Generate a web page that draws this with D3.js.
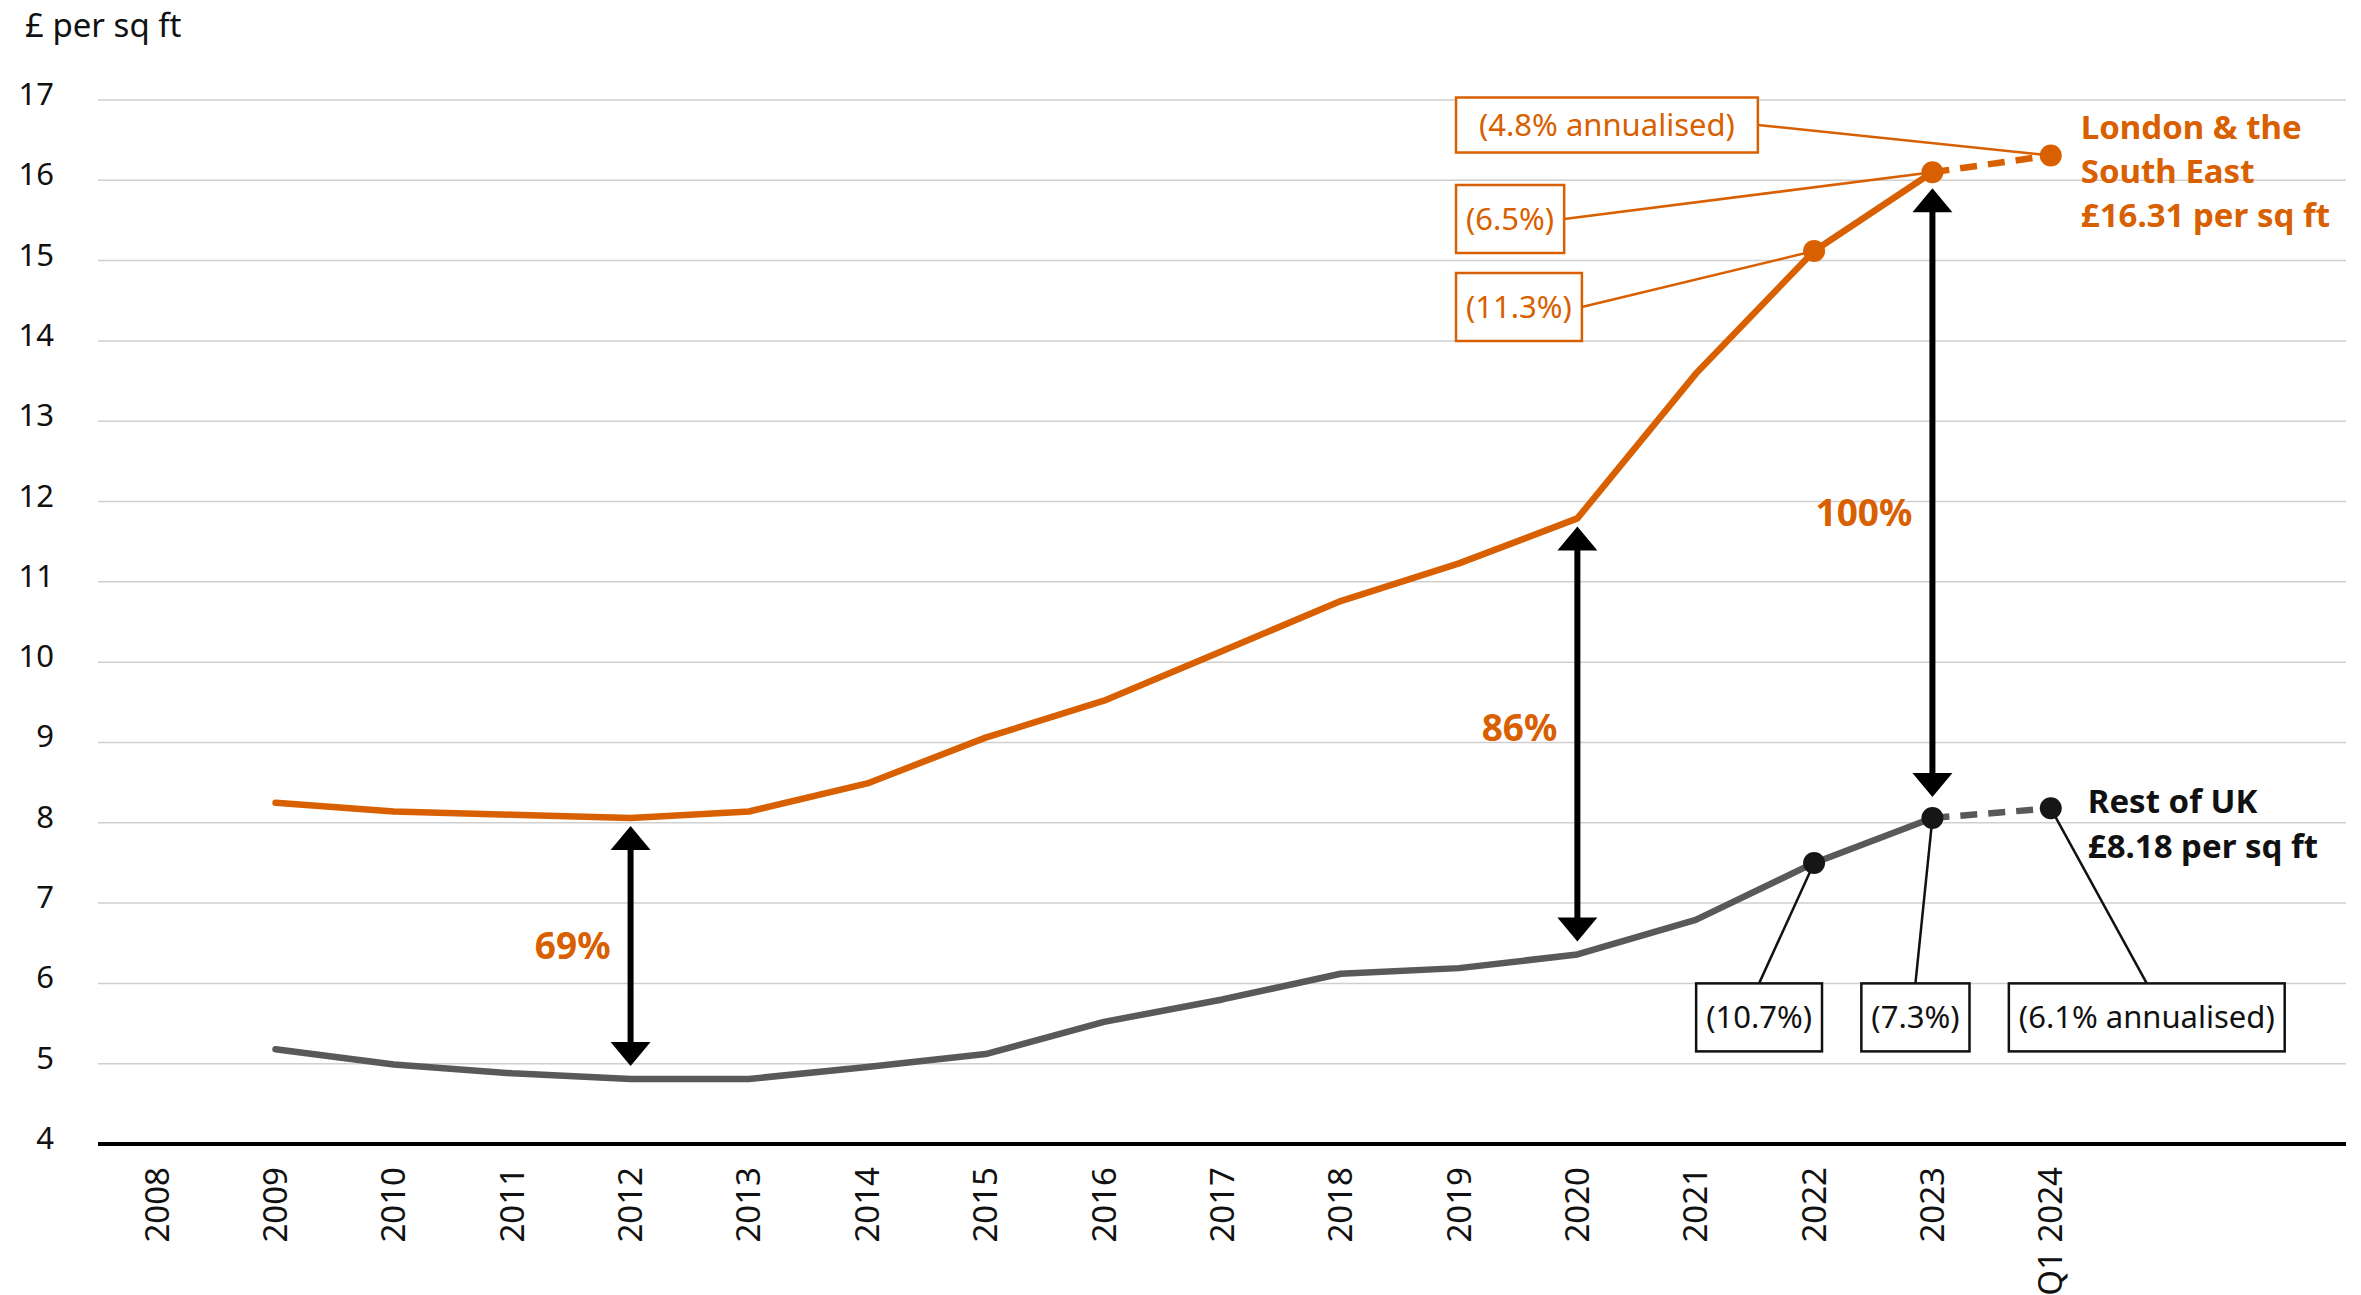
<!DOCTYPE html>
<html>
<head>
<meta charset="utf-8">
<script src="https://cdn.jsdelivr.net/npm/d3@7"></script>
<style>
  body { margin: 0; background: #fff; }
  text { font-family: "Noto Sans", "Open Sans", sans-serif; }
</style>
</head>
<body>
<div id="chart"></div>
<script>
// data
const years = ["2008", "2009", "2010", "2011", "2012", "2013", "2014", "2015", "2016",
               "2017", "2018", "2019", "2020", "2021", "2022", "2023", "Q1 2024"];
const londonSE = [null, 8.25, 8.14, 8.10, 8.06, 8.14, 8.49, 9.06, 9.52,
                  10.14, 10.76, 11.23, 11.79, 13.59, 15.12, 16.10, 16.31];
const restOfUK = [null, 5.18, 4.99, 4.88, 4.81, 4.81, 4.96, 5.12, 5.52,
                  5.80, 6.12, 6.19, 6.36, 6.79, 7.50, 8.06, 8.18];
const yTicks = [4, 5, 6, 7, 8, 9, 10, 11, 12, 13, 14, 15, 16, 17];
const gapYears = ["2012", "2020", "2023"];
const gapLabels = ["69%", "86%", "100%"];
const londonNotes = [
  {year: "2022", text: "(11.3%)"},
  {year: "2023", text: "(6.5%)"},
  {year: "Q1 2024", text: "(4.8% annualised)"}
];
const ukNotes = [
  {year: "2022", text: "(10.7%)"},
  {year: "2023", text: "(7.3%)"},
  {year: "Q1 2024", text: "(6.1% annualised)"}
];
const londonTitle = ["London & the", "South East", "£16.31 per sq ft"];
const ukTitle = ["Rest of UK", "£8.18 per sq ft"];
const markedYears = ["2022", "2023", "Q1 2024"];

// layout
const W = 2361, H = 1295;
const orange = "#D86000", grey = "#595959", dark = "#161616";
const londonBoxes = [{cy: 307, pad: 10, h: 68}, {cy: 219, pad: 10, h: 68}, {cy: 125, pad: 23, h: 55}];
const ukBoxes = [{dx: -55, pad: 10, h: 68}, {dx: -17, pad: 10, h: 68}, {dx: 96, pad: 10, h: 68}];
const gapLabelDy = [0, -6, 20];

const svg = d3.select("#chart").append("svg")
  .attr("width", W).attr("height", H);

const x = d3.scaleBand().domain(years).range([98, 98 + 17 * 118.35]);
const xc = d => x(d) + x.bandwidth() / 2;
const y = d3.scaleLinear().domain([4, 17]).range([1144, 100]);

// gridlines
svg.append("g").selectAll("line")
  .data(yTicks.filter(d => d > 4))
  .enter().append("line")
  .attr("x1", 98).attr("x2", 2346)
  .attr("y1", d => y(d)).attr("y2", d => y(d))
  .attr("stroke", "#cfcfcf").attr("stroke-width", 1.5);

// y labels
svg.append("g").selectAll("text")
  .data(yTicks)
  .enter().append("text")
  .attr("x", 54).attr("y", d => y(d) + 5)
  .attr("text-anchor", "end")
  .style("font-size", "31px")
  .attr("fill", "#111")
  .text(d => d);

svg.append("text")
  .attr("x", 25).attr("y", 37)
  .style("font-size", "33px")
  .attr("fill", "#111")
  .text("£ per sq ft");

// x axis
svg.append("line")
  .attr("x1", 98).attr("x2", 2346)
  .attr("y1", y(4)).attr("y2", y(4))
  .attr("stroke", "#000").attr("stroke-width", 4);

svg.append("g").selectAll("text")
  .data(years)
  .enter().append("text")
  .attr("transform", d => `translate(${xc(d)},1167) rotate(-90)`)
  .attr("text-anchor", "end")
  .attr("dy", "0.35em")
  .style("font-size", "33px")
  .attr("fill", "#111")
  .text(d => d);

// series
const series = [
  {name: "london", values: londonSE, color: orange, dot: orange},
  {name: "uk", values: restOfUK, color: grey, dot: dark}
];

const line = d3.line()
  .defined(d => d.v !== null)
  .x(d => xc(d.year))
  .y(d => y(d.v));

series.forEach(s => {
  const pts = years.map((yr, i) => ({year: yr, v: s.values[i]}));
  const solid = pts.slice(0, years.length - 1);
  const dashed = pts.slice(years.length - 2);
  svg.append("path")
    .datum(solid)
    .attr("d", line)
    .attr("fill", "none")
    .attr("stroke", s.color)
    .attr("stroke-width", 6.5)
    .attr("stroke-linejoin", "round")
    .attr("stroke-linecap", "round");
  svg.append("path")
    .datum(dashed)
    .attr("d", line)
    .attr("fill", "none")
    .attr("stroke", s.color)
    .attr("stroke-width", 6.5)
    .attr("stroke-dasharray", "17,11");
  s.pts = pts;
});

function valueAt(arr, yr) { return arr[years.indexOf(yr)]; }

// annotation boxes (orange)
londonNotes.forEach((n, i) => {
  const lay = londonBoxes[i];
  const g = svg.append("g");
  const t = g.append("text")
    .attr("y", lay.cy)
    .attr("dy", "0.35em")
    .style("font-size", "31px")
    .attr("fill", orange)
    .text(n.text);
  const left = xc("2019") - 3;
  const w = t.node().getComputedTextLength();
  t.attr("x", left + lay.pad);
  const right = left + w + lay.pad * 2;
  g.insert("rect", "text")
    .attr("x", left).attr("y", lay.cy - lay.h / 2)
    .attr("width", right - left).attr("height", lay.h)
    .attr("fill", "#fff").attr("stroke", orange).attr("stroke-width", 2.5);
  svg.append("line")
    .attr("x1", right).attr("y1", lay.cy)
    .attr("x2", xc(n.year)).attr("y2", y(valueAt(londonSE, n.year)))
    .attr("stroke", orange).attr("stroke-width", 2.5);
});

// annotation boxes (rest of UK)
ukNotes.forEach((n, i) => {
  const lay = ukBoxes[i];
  const g = svg.append("g");
  const cx = xc(n.year) + lay.dx;
  const top = y(6);
  const t = g.append("text")
    .attr("x", cx).attr("y", top + lay.h / 2)
    .attr("dy", "0.35em")
    .attr("text-anchor", "middle")
    .style("font-size", "31px")
    .attr("fill", "#111")
    .text(n.text);
  const w = t.node().getComputedTextLength() + lay.pad * 2;
  g.insert("rect", "text")
    .attr("x", cx - w / 2).attr("y", top)
    .attr("width", w).attr("height", lay.h)
    .attr("fill", "#fff").attr("stroke", "#111").attr("stroke-width", 2.5);
  svg.append("line")
    .attr("x1", cx).attr("y1", top)
    .attr("x2", xc(n.year)).attr("y2", y(valueAt(restOfUK, n.year)))
    .attr("stroke", "#111").attr("stroke-width", 2.5);
});

// markers
series.forEach(s => {
  svg.append("g").selectAll("circle")
    .data(s.pts.filter(p => markedYears.includes(p.year)))
    .enter().append("circle")
    .attr("cx", d => xc(d.year)).attr("cy", d => y(d.v))
    .attr("r", 11)
    .attr("fill", s.dot);
});

// gap arrows
gapYears.forEach((yr, i) => {
  const ax = xc(yr);
  const extra = markedYears.includes(yr) ? 8 : 0;
  const top = y(valueAt(londonSE, yr)) + 8 + extra;
  const bot = y(valueAt(restOfUK, yr)) - 13 - extra;
  const hw = 20, hl = 24;
  svg.append("line")
    .attr("x1", ax).attr("x2", ax)
    .attr("y1", top + hl - 2).attr("y2", bot - hl + 2)
    .attr("stroke", "#000").attr("stroke-width", 6);
  svg.append("path")
    .attr("d", `M${ax},${top}L${ax + hw},${top + hl}L${ax - hw},${top + hl}Z`)
    .attr("fill", "#000");
  svg.append("path")
    .attr("d", `M${ax},${bot}L${ax + hw},${bot - hl}L${ax - hw},${bot - hl}Z`)
    .attr("fill", "#000");
  svg.append("text")
    .attr("x", ax - 20).attr("y", (top + bot) / 2 + gapLabelDy[i])
    .attr("dy", "0.35em")
    .attr("text-anchor", "end")
    .style("font-size", "37px")
    .style("font-weight", "bold")
    .attr("fill", orange)
    .text(gapLabels[i]);
});

// series titles
const lastYear = years[years.length - 1];
svg.append("text")
  .attr("x", xc(lastYear) + 30).attr("y", y(valueAt(londonSE, lastYear)) - 16)
  .style("font-size", "33px").style("font-weight", "bold")
  .attr("fill", orange)
  .selectAll("tspan").data(londonTitle).enter().append("tspan")
  .attr("x", xc(lastYear) + 30)
  .attr("dy", (d, i) => i === 0 ? 0 : 44)
  .text(d => d);

svg.append("text")
  .attr("x", xc(lastYear) + 37).attr("y", y(valueAt(restOfUK, lastYear)) + 5)
  .style("font-size", "33px").style("font-weight", "bold")
  .attr("fill", "#111")
  .selectAll("tspan").data(ukTitle).enter().append("tspan")
  .attr("x", xc(lastYear) + 37)
  .attr("dy", (d, i) => i === 0 ? 0 : 45)
  .text(d => d);
</script>
</body>
</html>
